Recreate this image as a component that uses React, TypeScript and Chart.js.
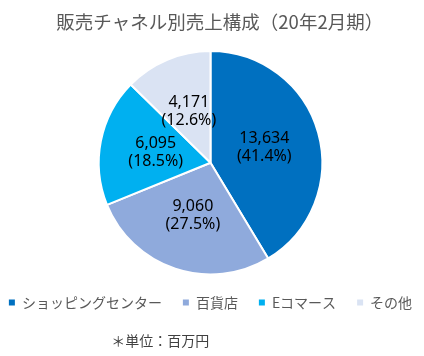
import React, { useEffect, useRef } from "react";
import { Chart, registerables } from "chart.js";

Chart.register(...registerables);

const categories = ["ショッピングセンター", "百貨店", "Eコマース", "その他"];
const values = [13634, 9060, 6095, 4171];
const percentLabels = ["41.4%", "27.5%", "18.5%", "12.6%"];
const colors = ["#0070C0", "#8FAADC", "#00B0F0", "#DAE3F3"];
const titleText = "販売チャネル別売上構成（20年2月期）";
const footnoteText = "＊単位：百万円";

const JP = "'Noto Sans CJK JP', 'Noto Sans', sans-serif";

const sliceLabels = {
  id: "sliceLabels",
  afterDatasetsDraw(chart: any) {
    const ctx = chart.ctx;
    const meta = chart.getDatasetMeta(0);
    ctx.save();
    ctx.font = "16px 'Noto Sans', sans-serif";
    ctx.fillStyle = "#000000";
    ctx.textAlign = "center";
    ctx.textBaseline = "middle";
    meta.data.forEach((arc: any, i: number) => {
      const p = arc.tooltipPosition();
      ctx.fillText(values[i].toLocaleString("en-US"), p.x, p.y - 9);
      ctx.fillText("(" + percentLabels[i] + ")", p.x, p.y + 9);
    });
    ctx.restore();
  },
};

const footnote = {
  id: "footnote",
  afterDraw(chart: any) {
    const ctx = chart.ctx;
    ctx.save();
    ctx.font = "14px " + JP;
    ctx.fillStyle = "#404040";
    ctx.textAlign = "center";
    ctx.textBaseline = "middle";
    ctx.fillText(footnoteText, chart.width * 0.378, chart.height - 15);
    ctx.restore();
  },
};

export default function App() {
  const ref = useRef<HTMLCanvasElement>(null);
  useEffect(() => {
    if (!ref.current) return;
    const chart = new Chart(ref.current, {
      type: "pie",
      data: {
        labels: categories,
        datasets: [
          {
            data: values,
            backgroundColor: colors,
            borderColor: "#ffffff",
            borderWidth: 2,
          },
        ],
      },
      options: {
        animation: false,
        responsive: true,
        maintainAspectRatio: false,
        layout: { padding: { top: 0, bottom: 36.5, left: 0, right: 3 } },
        plugins: {
          title: {
            display: true,
            text: "\u3000" + titleText,
            color: "#595959",
            font: { family: JP, size: 18.5, weight: "normal" },
            padding: { top: 11, bottom: 16.8 },
          },
          legend: {
            position: "bottom",
            title: {
              display: true,
              text: "",
              font: { size: 1 },
              padding: { top: 6, bottom: 5.8 },
            },
            labels: {
              boxWidth: 6,
              boxHeight: 6,
              padding: 7,
              color: "#595959",
              font: { family: JP, size: 14 },
              generateLabels(chart: any) {
                const items = Chart.overrides.pie.plugins.legend.labels.generateLabels(chart);
                return items.map((it: any, i: number) => ({
                  ...it,
                  text: i < items.length - 1 ? it.text + "\u3000" : it.text,
                  lineWidth: 0,
                }));
              },
            },
          },
          tooltip: { enabled: false },
        },
      },
      plugins: [sliceLabels, footnote],
    });
    return () => chart.destroy();
  }, []);
  return (
    <div style={{ position: "absolute", left: 0, top: 0, width: 424, height: 356 }}>
      <canvas ref={ref} />
    </div>
  );
}
